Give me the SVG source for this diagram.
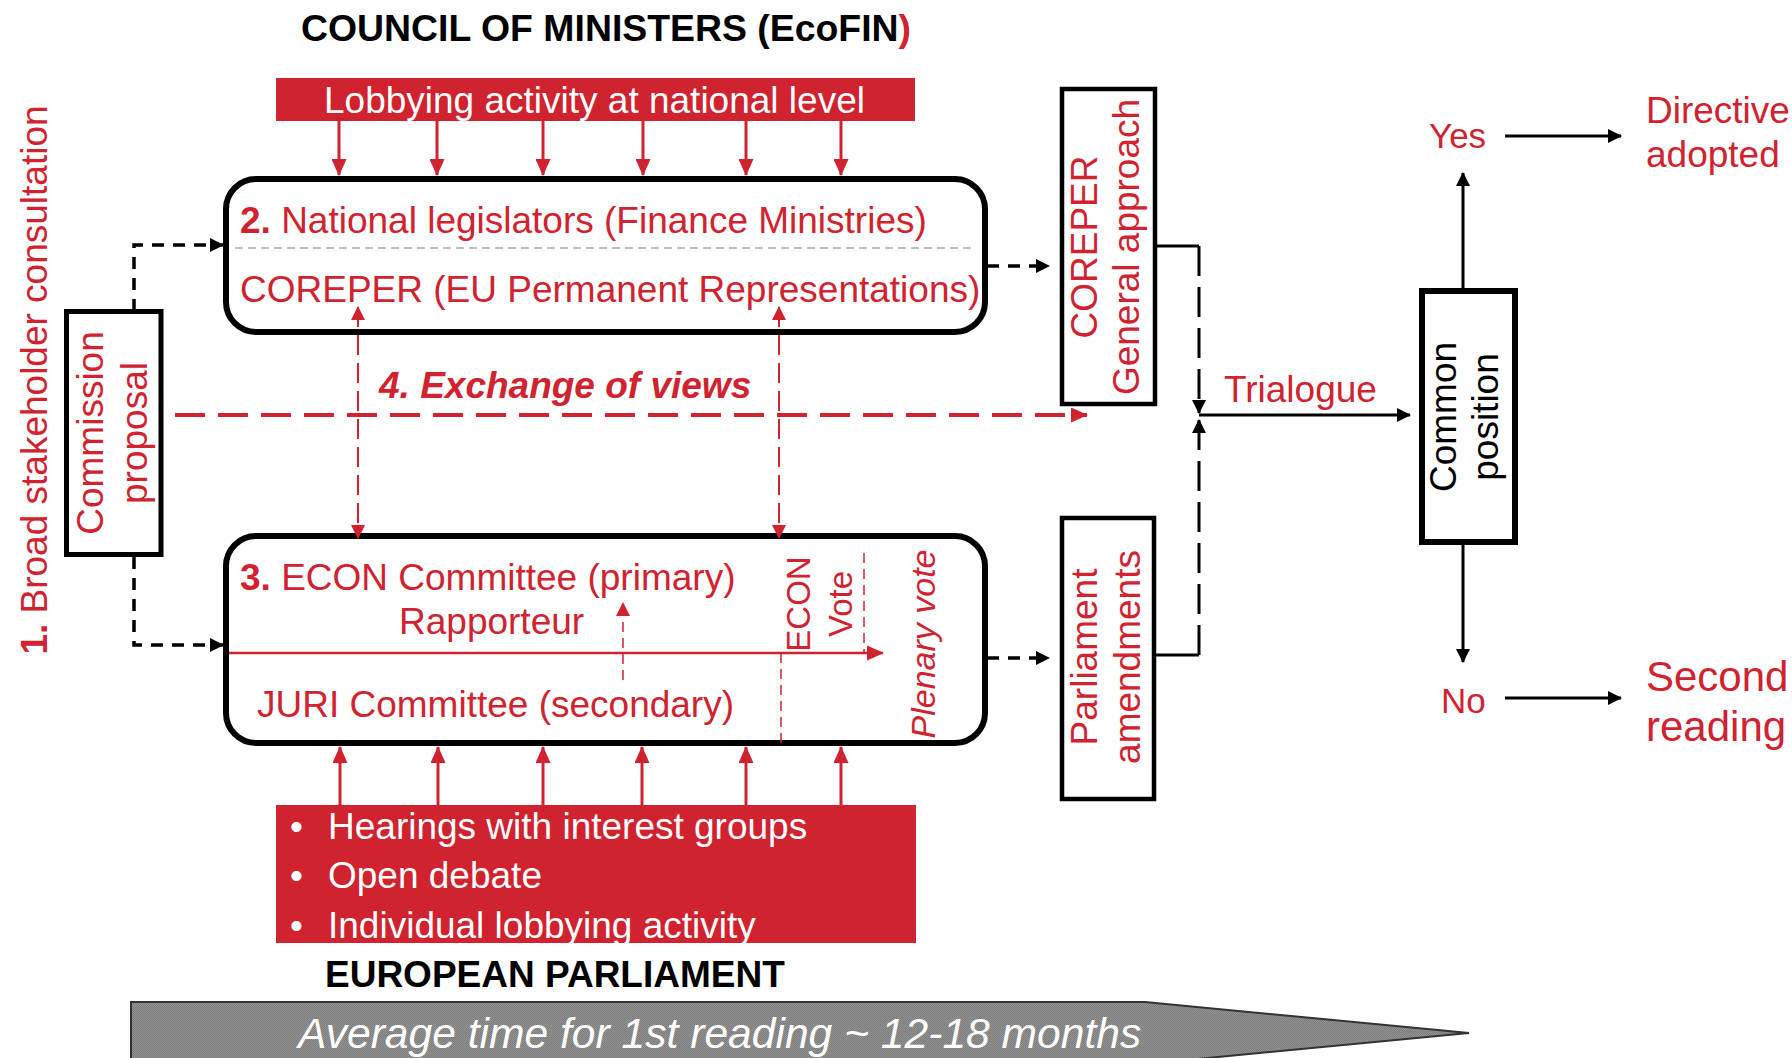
<svg xmlns="http://www.w3.org/2000/svg" width="1792" height="1058" viewBox="0 0 1792 1058">
<style>
text{font-family:"Liberation Sans",Arial,sans-serif;}
.r{fill:#D0222F;}
.w{fill:#fff;}
.k{fill:#000;}
.f37{font-size:37px;}
.b{font-weight:bold;}
.it{font-style:italic;}
.box{fill:#fff;stroke:#000;}
.redfill{fill:#D0222F;}
.lob{stroke:#D0222F;stroke-width:3;fill:none;}
.kdash{stroke:#000;stroke-width:3.5;fill:none;stroke-dasharray:12 9;}
.kline{stroke:#000;stroke-width:3;fill:none;}
.klong{stroke:#000;stroke-width:3;fill:none;stroke-dasharray:30 11;}
.rthin{stroke:#D0222F;stroke-width:2;fill:none;stroke-dasharray:20 8;}
.rfine{stroke:#D0222F;stroke-width:1.5;fill:none;stroke-dasharray:10 6;}
</style>
<defs>
<marker id="ar" viewBox="0 0 17 15" refX="16" refY="7.5" markerWidth="17" markerHeight="15" markerUnits="userSpaceOnUse" orient="auto-start-reverse"><path d="M0,0L17,7.5L0,15z" fill="#D0222F"/></marker>
<marker id="ars" viewBox="0 0 14 14" refX="13" refY="7" markerWidth="14" markerHeight="14" markerUnits="userSpaceOnUse" orient="auto-start-reverse"><path d="M0,0L14,7L0,14z" fill="#D0222F"/></marker>
<marker id="ak" viewBox="0 0 14 14" refX="13" refY="7" markerWidth="14" markerHeight="14" markerUnits="userSpaceOnUse" orient="auto"><path d="M0,0L14,7L0,14z" fill="#000"/></marker>
<pattern id="hatch" width="2" height="2" patternUnits="userSpaceOnUse"><rect width="2" height="2" fill="#939393"/><rect width="1" height="1" fill="#7c7c7c"/><rect x="1" y="1" width="1" height="1" fill="#7c7c7c"/></pattern>
<clipPath id="clipBottom"><rect x="276" y="805" width="640" height="138"/></clipPath>
</defs>

<rect width="1792" height="1058" fill="#fff"/>

<g id="title-council">
<text x="301" y="41" font-size="37.4" class="b k">COUNCIL OF MINISTERS (EcoFIN<tspan class="r">)</tspan></text>
</g>

<g id="lobbying-national">
<rect x="276" y="78" width="639" height="43" class="redfill"/>
<text x="324" y="113" class="f37 w">Lobbying activity at national level</text>
</g>

<g id="broad-consultation">
<text transform="translate(47,380) rotate(-90)" text-anchor="middle" class="f37 r"><tspan class="b">1.</tspan> Broad stakeholder consultation</text>
</g>

<g id="commission-proposal">
<rect x="66.5" y="311.5" width="94.5" height="243" class="box" stroke-width="5"/>
<text transform="translate(103,433) rotate(-90)" text-anchor="middle" class="f37 r">Commission</text>
<text transform="translate(147,433) rotate(-90)" text-anchor="middle" class="f37 r">proposal</text>
</g>

<g id="council-box">
<rect x="226" y="179" width="759" height="153" rx="30" class="box" stroke-width="6"/>
<text x="240" y="233" class="f37 r"><tspan class="b">2.</tspan> National legislators (Finance Ministries)</text>
<line x1="235" y1="248" x2="975" y2="248" stroke="#A8A8A8" stroke-width="1.5" stroke-dasharray="8 5"/>
<text x="240" y="302" class="f37 r">COREPER (EU Permanent Representations)</text>
</g>

<g id="parliament-box">
<rect x="226" y="536" width="759" height="207" rx="30" class="box" stroke-width="6"/>
<text x="240" y="590" class="f37 r"><tspan class="b">3.</tspan> ECON Committee (primary)</text>
<text x="399" y="634" class="f37 r">Rapporteur</text>
<text x="257" y="717" class="f37 r">JURI Committee (secondary)</text>
<text transform="translate(810,604) rotate(-90)" text-anchor="middle" font-size="33" class="r">ECON</text>
<text transform="translate(852,604) rotate(-90)" text-anchor="middle" font-size="33" class="r">Vote</text>
<text transform="translate(935,644) rotate(-90)" text-anchor="middle" font-size="34" class="r it">Plenary vote</text>
</g>

<g id="exchange-label">
<text x="379" y="398" class="f37 r b it">4. Exchange of views</text>
</g>

<g id="hearings">
<rect x="276" y="805" width="640" height="138" class="redfill"/>
<g clip-path="url(#clipBottom)">
<text x="290" y="839" class="f37 w">•</text>
<text x="328" y="839" class="f37 w">Hearings with interest groups</text>
<text x="290" y="888" class="f37 w">•</text>
<text x="328" y="888" class="f37 w">Open debate</text>
<text x="290" y="938" class="f37 w">•</text>
<text x="328" y="938" class="f37 w">Individual lobbying activity</text>
</g>
</g>

<g id="title-parliament">
<text x="325" y="987" class="f37 b k">EUROPEAN PARLIAMENT</text>
</g>

<g id="timeline">
<polygon points="131,1002 1145,1002 1469,1033 1145,1064 131,1064" fill="url(#hatch)" stroke="#333" stroke-width="2"/>
<text x="298" y="1048" font-size="42.6" class="w it">Average time for 1st reading ~ 12-18 months</text>
</g>

<g id="coreper-general">
<rect x="1062" y="89" width="93" height="315" class="box" stroke-width="4.5"/>
<text transform="translate(1097,247) rotate(-90)" text-anchor="middle" class="f37 r">COREPER</text>
<text transform="translate(1139,247) rotate(-90)" text-anchor="middle" class="f37 r">General approach</text>
</g>

<g id="parliament-amendments">
<rect x="1062" y="518" width="92" height="281" class="box" stroke-width="4.5"/>
<text transform="translate(1097,657) rotate(-90)" text-anchor="middle" class="f37 r">Parliament</text>
<text transform="translate(1140,657) rotate(-90)" text-anchor="middle" class="f37 r">amendments</text>
</g>

<g id="trialogue-label">
<text x="1224" y="402" class="f37 r">Trialogue</text>
</g>

<g id="common-position">
<rect x="1422" y="291" width="93" height="251" class="box" stroke-width="6"/>
<text transform="translate(1456,417) rotate(-90)" text-anchor="middle" class="f37 k">Common</text>
<text transform="translate(1498,417) rotate(-90)" text-anchor="middle" class="f37 k">position</text>
</g>

<g id="yes-label"><text x="1429" y="148" font-size="35" class="r">Yes</text></g>
<g id="no-label"><text x="1441" y="713" font-size="35" class="r">No</text></g>
<g id="directive-adopted">
<text x="1646" y="123" class="f37 r">Directive</text>
<text x="1646" y="167" class="f37 r">adopted</text>
</g>
<g id="second-reading">
<text x="1646" y="691" font-size="42" class="r">Second</text>
<text x="1646" y="741" font-size="42" class="r">reading</text>
</g>

<g id="connectors">
<line x1="339" y1="121" x2="339" y2="175" class="lob" marker-end="url(#ar)"/>
<line x1="437" y1="121" x2="437" y2="175" class="lob" marker-end="url(#ar)"/>
<line x1="543" y1="121" x2="543" y2="175" class="lob" marker-end="url(#ar)"/>
<line x1="643" y1="121" x2="643" y2="175" class="lob" marker-end="url(#ar)"/>
<line x1="746" y1="121" x2="746" y2="175" class="lob" marker-end="url(#ar)"/>
<line x1="841" y1="121" x2="841" y2="175" class="lob" marker-end="url(#ar)"/>
<line x1="340" y1="805" x2="340" y2="747" class="lob" marker-end="url(#ar)"/>
<line x1="438" y1="805" x2="438" y2="747" class="lob" marker-end="url(#ar)"/>
<line x1="543" y1="805" x2="543" y2="747" class="lob" marker-end="url(#ar)"/>
<line x1="642" y1="805" x2="642" y2="747" class="lob" marker-end="url(#ar)"/>
<line x1="746" y1="805" x2="746" y2="747" class="lob" marker-end="url(#ar)"/>
<line x1="841" y1="805" x2="841" y2="747" class="lob" marker-end="url(#ar)"/>
<polyline points="134,311 134,245 223,245" class="kdash" marker-end="url(#ak)"/>
<polyline points="134,557 134,645 223,645" class="kdash" marker-end="url(#ak)"/>
<line x1="175" y1="415" x2="1087" y2="415" stroke="#D0222F" stroke-width="4" stroke-dasharray="30 13" marker-end="url(#ar)"/>
<line x1="358" y1="307" x2="358" y2="538" class="rthin" marker-start="url(#ars)" marker-end="url(#ars)"/>
<line x1="779" y1="307" x2="779" y2="538" class="rthin" marker-start="url(#ars)" marker-end="url(#ars)"/>
<line x1="229" y1="653" x2="883" y2="653" stroke="#D0222F" stroke-width="2.5" marker-end="url(#ar)"/>
<line x1="623" y1="680" x2="623" y2="603" class="rfine" stroke-width="2" marker-end="url(#ars)"/>
<line x1="781" y1="653" x2="781" y2="743" class="rfine"/>
<line x1="864" y1="553" x2="864" y2="653" class="rfine"/>
<line x1="987" y1="266" x2="1049" y2="266" class="kdash" marker-end="url(#ak)"/>
<line x1="987" y1="658" x2="1049" y2="658" class="kdash" marker-end="url(#ak)"/>
<polyline points="1155,246 1199,246" class="kline"/>
<line x1="1199" y1="246" x2="1199" y2="413" class="klong" marker-end="url(#ak)"/>
<polyline points="1154,655 1199,655" class="kline"/>
<line x1="1199" y1="655" x2="1199" y2="420" class="klong" marker-end="url(#ak)"/>
<line x1="1199" y1="415" x2="1410" y2="415" class="kline" marker-end="url(#ak)"/>
<line x1="1463" y1="288" x2="1463" y2="173" class="kline" marker-end="url(#ak)"/>
<line x1="1463" y1="545" x2="1463" y2="662" class="kline" marker-end="url(#ak)"/>
<line x1="1505" y1="136" x2="1621" y2="136" class="kline" marker-end="url(#ak)"/>
<line x1="1505" y1="698" x2="1621" y2="698" class="kline" marker-end="url(#ak)"/>
</g>
</svg>
